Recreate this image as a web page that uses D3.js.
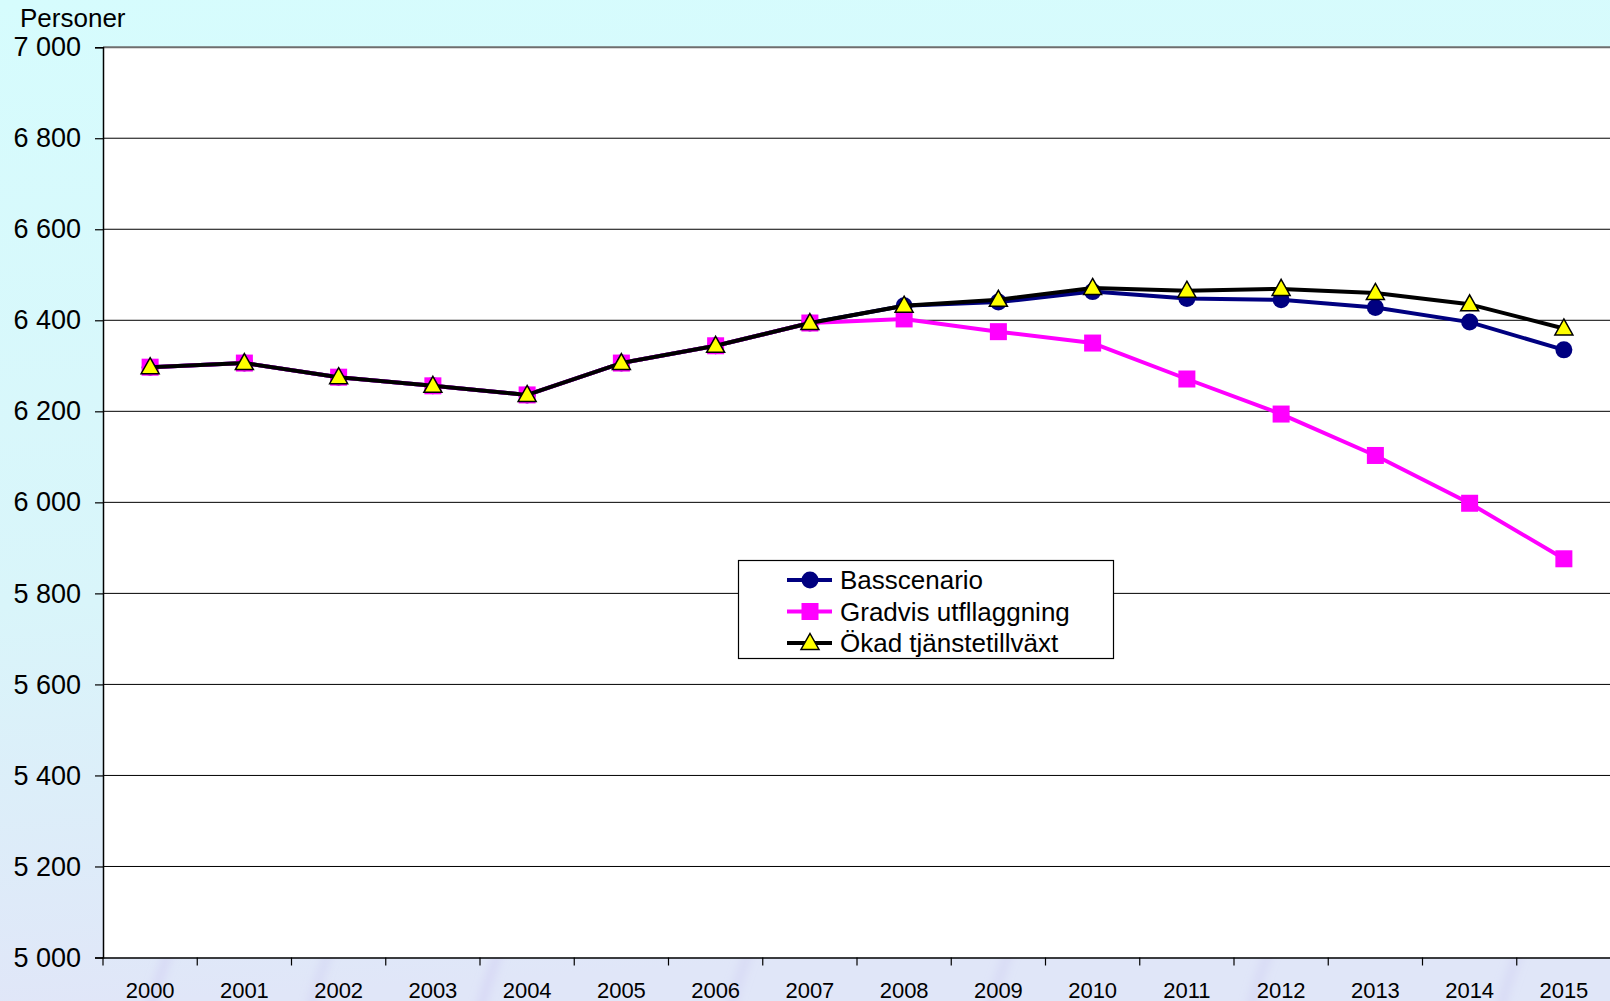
<!DOCTYPE html>
<html><head><meta charset="utf-8">
<script src="https://cdn.jsdelivr.net/npm/d3@7"></script>
<style>
html,body{margin:0;padding:0;overflow:hidden;}
svg{display:block;font-family:"Liberation Sans",Arial,sans-serif;}
</style></head>
<body>
<script>
const years = ["2000","2001","2002","2003","2004","2005","2006","2007","2008","2009","2010","2011","2012","2013","2014","2015"];
const basscenario = [6297,6306,6275,6256,6236,6306,6344,6394,6432,6440,6463,6448,6445,6428,6396,6335];
const gradvis = [6297,6306,6275,6256,6236,6306,6344,6394,6403,6375,6350,6271,6194,6103,5998,5876];
const okad = [6297,6306,6275,6256,6236,6306,6344,6394,6432,6445,6471,6465,6469,6460,6435,6382];
const yTicks = [5000,5200,5400,5600,5800,6000,6200,6400,6600,6800,7000];
const seriesNames = ["Basscenario","Gradvis utfllaggning","Ökad tjänstetillväxt"];
const yTitle = "Personer";

const W = 1610, H = 1001;
const L = 103, R = 1611, T = 47.2, B = 957.5;

const svg = d3.select("body").append("svg").attr("width", W).attr("height", H);
const defs = svg.append("defs");
const g1 = defs.append("linearGradient").attr("id","bg").attr("x1",0).attr("y1",0).attr("x2",0.1).attr("y2",1);
g1.append("stop").attr("offset","0%").attr("stop-color","#d6fcfd");
g1.append("stop").attr("offset","60%").attr("stop-color","#d9f5fa");
g1.append("stop").attr("offset","100%").attr("stop-color","#e0e6f8");
svg.append("rect").attr("width",W).attr("height",H).attr("fill","url(#bg)");
defs.append("filter").attr("id","blur").append("feGaussianBlur").attr("stdDeviation",4);
// faint lavender streaks near bottom
const streaks = [[150,0.35],[310,0.3],[480,0.35],[730,0.3],[990,0.3],[1250,0.3],[1500,0.3]];
svg.append("g").attr("filter","url(#blur)").selectAll("path").data(streaks).join("path")
  .attr("d", d => `M${d[0]},${H+10} Q${d[0]+15},${H-50} ${d[0]+50},${H-120}`)
  .attr("stroke","#c8c4f0").attr("stroke-opacity", d=>d[1]).attr("stroke-width",10).attr("fill","none");

const x = d3.scaleBand().domain(years).range([L, R]).padding(0);
const y = d3.scaleLinear().domain([5000,7000]).range([B, T]);

svg.append("rect").attr("x",L).attr("y",T).attr("width",R-L).attr("height",B-T).attr("fill","#ffffff");

// gridlines
svg.append("g").selectAll("line").data(yTicks.filter(v=>v>5000)).join("line")
  .attr("x1",L).attr("x2",R).attr("y1",d=>y(d)).attr("y2",d=>y(d))
  .attr("stroke",d=> d===7000 ? "#6e6e6e" : "#000").attr("stroke-width",d=> d===7000 ? 2 : 1);

// y axis
const yAxis = d3.axisLeft(y).tickValues(yTicks).tickSize(8).tickPadding(14)
  .tickFormat(d => d3.format(",")(d).replace(/,/g," "));
const ya = svg.append("g").attr("transform",`translate(${L},0)`).call(yAxis);
ya.select(".domain").attr("stroke","#000").attr("stroke-width",1.5);
ya.selectAll(".tick line").attr("stroke","#000").attr("stroke-width",1.2);
ya.selectAll("text").attr("font-size",27).attr("fill","#000").attr("font-family","Liberation Sans, Arial, sans-serif");

// x axis
const xAxis = d3.axisBottom(x).tickSize(0).tickPadding(0);
const xa = svg.append("g").attr("transform",`translate(0,${B})`).call(xAxis);
xa.select(".domain").attr("stroke","#000").attr("stroke-width",1.5);
xa.selectAll("text").attr("font-size",22).attr("fill","#000").attr("dy",null).attr("y",40)
  .attr("font-family","Liberation Sans, Arial, sans-serif");
// category boundary ticks
const bounds = years.map(d => x(d)).concat([R]);
svg.append("g").selectAll("line").data(bounds).join("line")
  .attr("x1",d=>d).attr("x2",d=>d).attr("y1",B).attr("y2",B+8)
  .attr("stroke","#000").attr("stroke-width",1.2);

svg.append("text").attr("x",20).attr("y",27).attr("font-size",26).attr("fill","#000").text(yTitle);

const cx = d => x(d) + x.bandwidth()/2;
const line = d3.line().x((d,i)=>cx(years[i])).y(d=>y(d));

const series = [
  {name: seriesNames[0], values: basscenario, color:"#000080", marker:"circle"},
  {name: seriesNames[1], values: gradvis, color:"#ff00ff", marker:"square"},
  {name: seriesNames[2], values: okad, color:"#000000", marker:"triangle"}
];

function drawMarker(sel, type, color){
  if(type==="circle"){
    sel.append("circle").attr("r",8.5).attr("fill","#000080");
  } else if(type==="square"){
    sel.append("rect").attr("x",-8.5).attr("y",-8.5).attr("width",17).attr("height",17).attr("fill","#ff00ff");
  } else {
    sel.append("path").attr("d","M0,-9.5 L9,6.5 L-9,6.5 Z").attr("fill","#ffff00").attr("stroke","#000").attr("stroke-width",1.5).attr("stroke-linejoin","miter");
  }
}

series.forEach(s => {
  svg.append("path").datum(s.values).attr("d",line).attr("fill","none")
    .attr("stroke",s.color).attr("stroke-width",4).attr("stroke-linejoin","round");
  s.values.forEach((v,i) => {
    const gm = svg.append("g").attr("transform",`translate(${cx(years[i])},${y(v)})`);
    drawMarker(gm, s.marker, s.color);
  });
});

// legend
const lg = svg.append("g");
lg.append("rect").attr("x",738.5).attr("y",560.5).attr("width",375).attr("height",98)
  .attr("fill","#fff").attr("stroke","#000").attr("stroke-width",1.2);
series.forEach((s,i) => {
  const yy = 580 + i*31.5;
  lg.append("line").attr("x1",787).attr("x2",832).attr("y1",yy).attr("y2",yy).attr("stroke",s.color).attr("stroke-width",4);
  const gm = lg.append("g").attr("transform",`translate(810,${yy})`);
  drawMarker(gm, s.marker, s.color);
  lg.append("text").attr("x",840).attr("y",yy+9).attr("font-size",26).attr("fill","#000").text(s.name);
});
</script>
</body></html>
